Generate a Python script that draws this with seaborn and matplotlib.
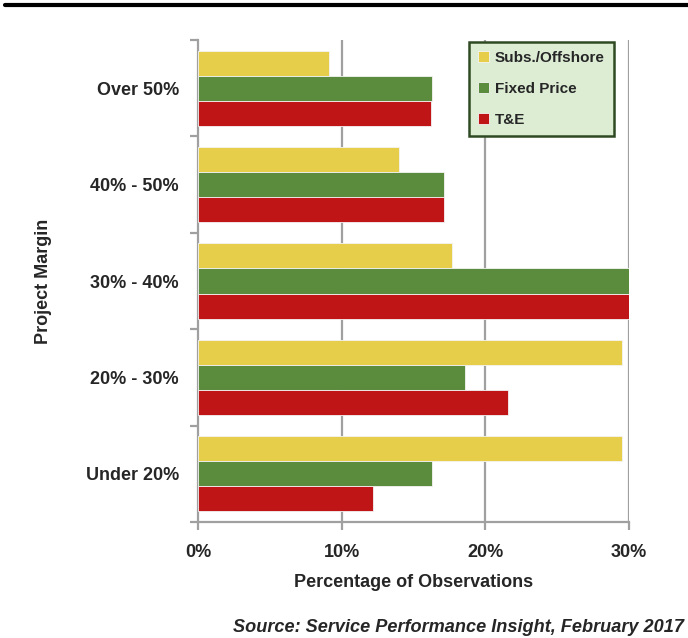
import matplotlib
matplotlib.use("Agg")
import matplotlib.pyplot as plt
from matplotlib.ticker import FixedLocator, PercentFormatter
import seaborn as sns
import pandas as pd

# Survey results: share of observations per project-margin band
categories = ["Over 50%", "40% - 50%", "30% - 40%", "20% - 30%", "Under 20%"]
series = ["Subs./Offshore", "Fixed Price", "T&E"]
subs_offshore = [9.1, 14.0, 17.7, 29.5, 29.5]
fixed_price = [16.3, 17.1, 30.0, 18.6, 16.3]
t_and_e = [16.2, 17.1, 30.0, 21.6, 12.2]
x_ticks = [0, 10, 20, 30]

colors = ["#E6CE4B", "#5B8C3E", "#C01517"]

df = pd.DataFrame({
    "Project Margin": categories * 3,
    "Series": [s for s in series for _ in categories],
    "Value": subs_offshore + fixed_price + t_and_e,
})

sns.set_theme(style="white")
plt.rcParams["font.family"] = ["Liberation Sans", "DejaVu Sans"]
plt.rcParams["font.weight"] = "bold"

fig = plt.figure(figsize=(6.88, 6.38), dpi=100)
ax = fig.add_axes([198.3 / 688, 1 - 522 / 638, (628.7 - 198.3) / 688, (522 - 40) / 638])

sns.barplot(data=df, y="Project Margin", x="Value", hue="Series",
            order=categories, hue_order=series, palette=colors, saturation=1,
            orient="h", width=0.78, ax=ax, edgecolor="#F4F4F4", linewidth=0.6,
            zorder=3)

grid_c = "#A0A0A0"
ax.set_xlim(0, 30)
ax.set_ylim(len(categories) - 0.5, -0.5)
ax.xaxis.set_major_locator(FixedLocator(x_ticks))
ax.xaxis.set_major_formatter(PercentFormatter(decimals=0))
for v in x_ticks[1:]:
    ax.axvline(v, color=grid_c, lw=1.6, zorder=1)

for side in ["top", "right"]:
    ax.spines[side].set_visible(False)
for side in ["left", "bottom"]:
    ax.spines[side].set_color(grid_c)
    ax.spines[side].set_linewidth(1.6)

ax.tick_params(axis="x", direction="out", length=6, width=1.6, color=grid_c,
               labelsize=13, pad=10, bottom=True)
ax.tick_params(axis="y", which="major", length=0, labelsize=13, pad=14)
ax.yaxis.set_minor_locator(FixedLocator([i + 0.5 for i in range(-1, len(categories))]))
ax.tick_params(axis="y", which="minor", direction="out", length=6, width=1.6,
               color=grid_c, left=True)
for lbl in ax.get_xticklabels() + ax.get_yticklabels():
    lbl.set_fontweight("bold")

ax.set_xlabel("Percentage of Observations", fontsize=13, fontweight="bold", labelpad=9)
ax.set_ylabel("Project Margin", fontsize=13, fontweight="bold", labelpad=24)

leg = ax.legend(loc="upper right", bbox_to_anchor=(614 / 688, 1 - 42 / 638),
                bbox_transform=fig.transFigure, frameon=True, fancybox=False,
                prop={"weight": "bold", "size": 11}, handlelength=0.7,
                handleheight=0.7, handletextpad=0.4, labelspacing=1.1,
                borderpad=0.6, borderaxespad=0)
leg.get_frame().set_facecolor("#DCEDD4")
leg.get_frame().set_edgecolor("#2F4A22")
leg.get_frame().set_linewidth(1.8)
leg.get_frame().set_alpha(1)
leg.set_zorder(5)

# Rule across the top of the figure
fig.add_artist(plt.Line2D([5 / 688, 1], [1 - 5 / 638, 1 - 5 / 638],
                          color="black", lw=3, transform=fig.transFigure))

fig.text(684 / 688, 1 - 627 / 638, "Source: Service Performance Insight, February 2017",
         ha="right", va="center", fontsize=13.1, fontweight="bold", style="italic")

fig.savefig("out.png", dpi=100)
